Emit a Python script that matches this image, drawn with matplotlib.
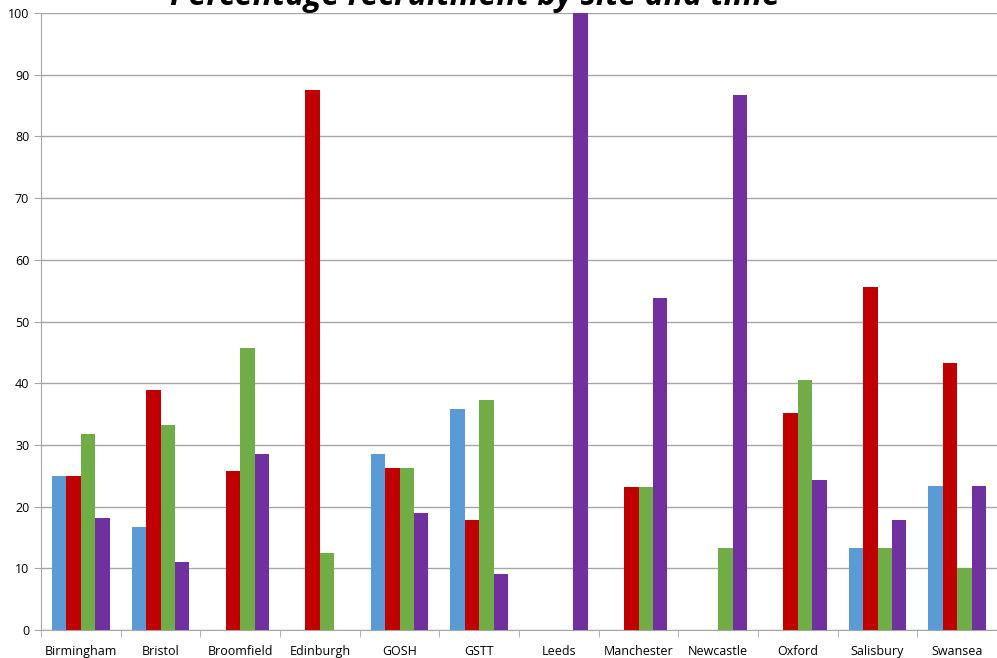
import matplotlib
matplotlib.use('Agg')
import matplotlib.pyplot as plt
import numpy as np

# sites along the x axis
sites = ['Birmingham', 'Bristol', 'Broomfield', 'Edinburgh', 'GOSH', 'GSTT',
         'Leeds', 'Manchester', 'Newcastle', 'Oxford', 'Salisbury', 'Swansea']

# percentage recruitment, one list per time point
time_1 = [25.0, 16.7, 0, 0, 28.6, 35.8, 0, 0, 0, 0, 13.3, 23.3]
time_2 = [25.0, 38.9, 25.7, 87.5, 26.2, 17.9, 0, 23.1, 0, 35.1, 55.6, 43.3]
time_3 = [31.8, 33.3, 45.7, 12.5, 26.2, 37.3, 0, 23.1, 13.3, 40.5, 13.3, 10.0]
time_4 = [18.1, 11.1, 28.6, 0, 19.0, 9.0, 100.0, 53.8, 86.7, 24.3, 17.8, 23.3]

series = [time_1, time_2, time_3, time_4]
colours = ['#5b9bd5', '#c00000', '#70ad47', '#7030a0']

plt.rcParams['font.family'] = ['Open Sans', 'DejaVu Sans']

fig = plt.figure(figsize=(9.97, 6.58), dpi=100)
ax = fig.add_axes([41 / 997, 28 / 658, (997 - 41) / 997, (630 - 13) / 658])

x = np.arange(len(sites))
width = 0.18
for i, (vals, col) in enumerate(zip(series, colours)):
    ax.bar(x + (i - 1.5) * width, vals, width, color=col, zorder=3)

ax.set_ylim(0, 100)
ax.set_xlim(-0.5, len(sites) - 0.5)
ax.set_yticks(range(0, 101, 10))
ax.yaxis.grid(True, color='#a6a6a6', linewidth=1, zorder=0)

ax.set_xticks(x)
ax.set_xticklabels(sites, fontsize=9)
ax.set_xticks(np.arange(-0.5, len(sites), 1), minor=True)
ax.tick_params(axis='x', which='major', length=0, pad=11)
ax.tick_params(axis='x', which='minor', length=5, color='#a6a6a6')
ax.tick_params(axis='y', length=5, color='#a6a6a6', labelsize=9)

for side in ['top', 'right']:
    ax.spines[side].set_visible(False)
for side in ['left', 'bottom']:
    ax.spines[side].set_color('#a6a6a6')

# title sits partly above the top edge, as in the original export
fig.text(475 / 997, 1 - 5 / 658, 'Percentage recruitment by site and time',
         ha='center', va='baseline', fontsize=23, fontweight='bold',
         fontstyle='italic')

fig.savefig('out.png', dpi=100)
